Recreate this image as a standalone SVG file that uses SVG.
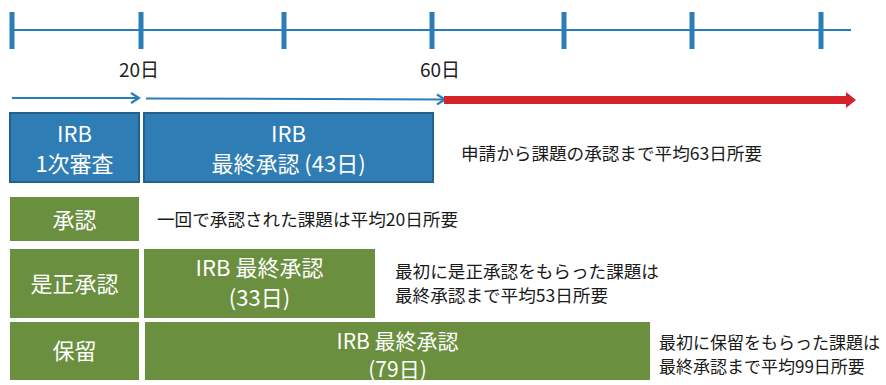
<svg xmlns="http://www.w3.org/2000/svg" width="886" height="385" viewBox="0 0 886 385">
<style>
text{font-family:"Noto Sans CJK JP","Noto Sans",sans-serif}
.axis{stroke:#2a7db6;stroke-width:2;fill:none}
.tick{stroke:#2a7db6;stroke-width:5}
.blue{fill:#2e7db5;stroke:#23608e;stroke-width:2}
.green{fill:#6a8f3e}
.wt{fill:#ffffff;font-size:22px;text-anchor:middle}
.ws{font-size:21px}
.bt{fill:#1a1a1a;font-size:17.6px}
.sm{font-size:17px}
.lbl{fill:#222;font-size:19px;text-anchor:middle}
</style>
<defs>
<marker id="chev" markerWidth="12" markerHeight="12" refX="10" refY="6" orient="auto" markerUnits="userSpaceOnUse">
<path d="M2,1 L10,6 L2,11" fill="none" stroke="#2a7db6" stroke-width="2.2"/>
</marker>
</defs>
<g id="timeline">
<line class="axis" x1="12" y1="30" x2="851" y2="30"/>
<line class="tick" x1="12" y1="12" x2="12" y2="49"/>
<line class="tick" x1="141" y1="12" x2="141" y2="49"/>
<line class="tick" x1="284" y1="12" x2="284" y2="49"/>
<line class="tick" x1="432" y1="12" x2="432" y2="49"/>
<line class="tick" x1="564" y1="12" x2="564" y2="49"/>
<line class="tick" x1="692" y1="12" x2="692" y2="49"/>
<line class="tick" x1="821" y1="12" x2="821" y2="49"/>
<text class="lbl" x="139" y="77">20日</text>
<text class="lbl" x="440" y="77">60日</text>
</g>
<g id="connectors">
<line x1="12" y1="98" x2="139" y2="98" stroke="#2a7db6" stroke-width="2" marker-end="url(#chev)"/>
<line x1="146" y1="98.5" x2="445" y2="99.5" stroke="#2a7db6" stroke-width="2" marker-end="url(#chev)"/>
<path d="M444,96 L846,96 L846,92 L856,100 L846,108 L846,104 L444,104 Z" fill="#d42329"/>
</g>
<g id="irb1">
<rect class="blue" x="10" y="113" width="129" height="69"/>
<text class="wt" x="74.5" y="142">IRB</text>
<text class="wt" x="74.5" y="172">1次審査</text>
</g>
<g id="irb2">
<rect class="blue" x="144" y="113" width="289" height="69"/>
<text class="wt" x="288.5" y="142">IRB</text>
<text class="wt" x="288.5" y="172">最終承認 (43日)</text>
</g>
<g id="note1"><text class="bt" x="461" y="160">申請から課題の承認まで平均63日所要</text></g>
<g id="approve">
<rect class="green" x="10" y="197" width="129" height="44"/>
<text class="wt" x="74.5" y="228">承認</text>
</g>
<g id="note2"><text class="bt" x="157" y="226">一回で承認された課題は平均20日所要</text></g>
<g id="corrective">
<rect class="green" x="10" y="249" width="129" height="69"/>
<text class="wt" x="74.5" y="292">是正承認</text>
</g>
<g id="corrective-final">
<rect class="green" x="144" y="249" width="231" height="69"/>
<text class="wt" x="259.5" y="276">IRB 最終承認</text>
<text class="wt" x="259.5" y="306">(33日)</text>
</g>
<g id="note3">
<text class="bt" x="395" y="278">最初に是正承認をもらった課題は</text>
<text class="bt" x="395" y="302">最終承認まで平均53日所要</text>
</g>
<g id="hold">
<rect class="green" x="10" y="322" width="129" height="58"/>
<text class="wt" x="74.5" y="359">保留</text>
</g>
<g id="hold-final">
<rect class="green" x="145" y="322" width="505" height="58"/>
<text class="wt ws" x="397.5" y="349">IRB 最終承認</text>
<text class="wt ws" x="397.5" y="377">(79日)</text>
</g>
<g id="note4">
<text class="bt sm" x="659" y="349">最初に保留をもらった課題は</text>
<text class="bt sm" x="659" y="373">最終承認まで平均99日所要</text>
</g>
</svg>
